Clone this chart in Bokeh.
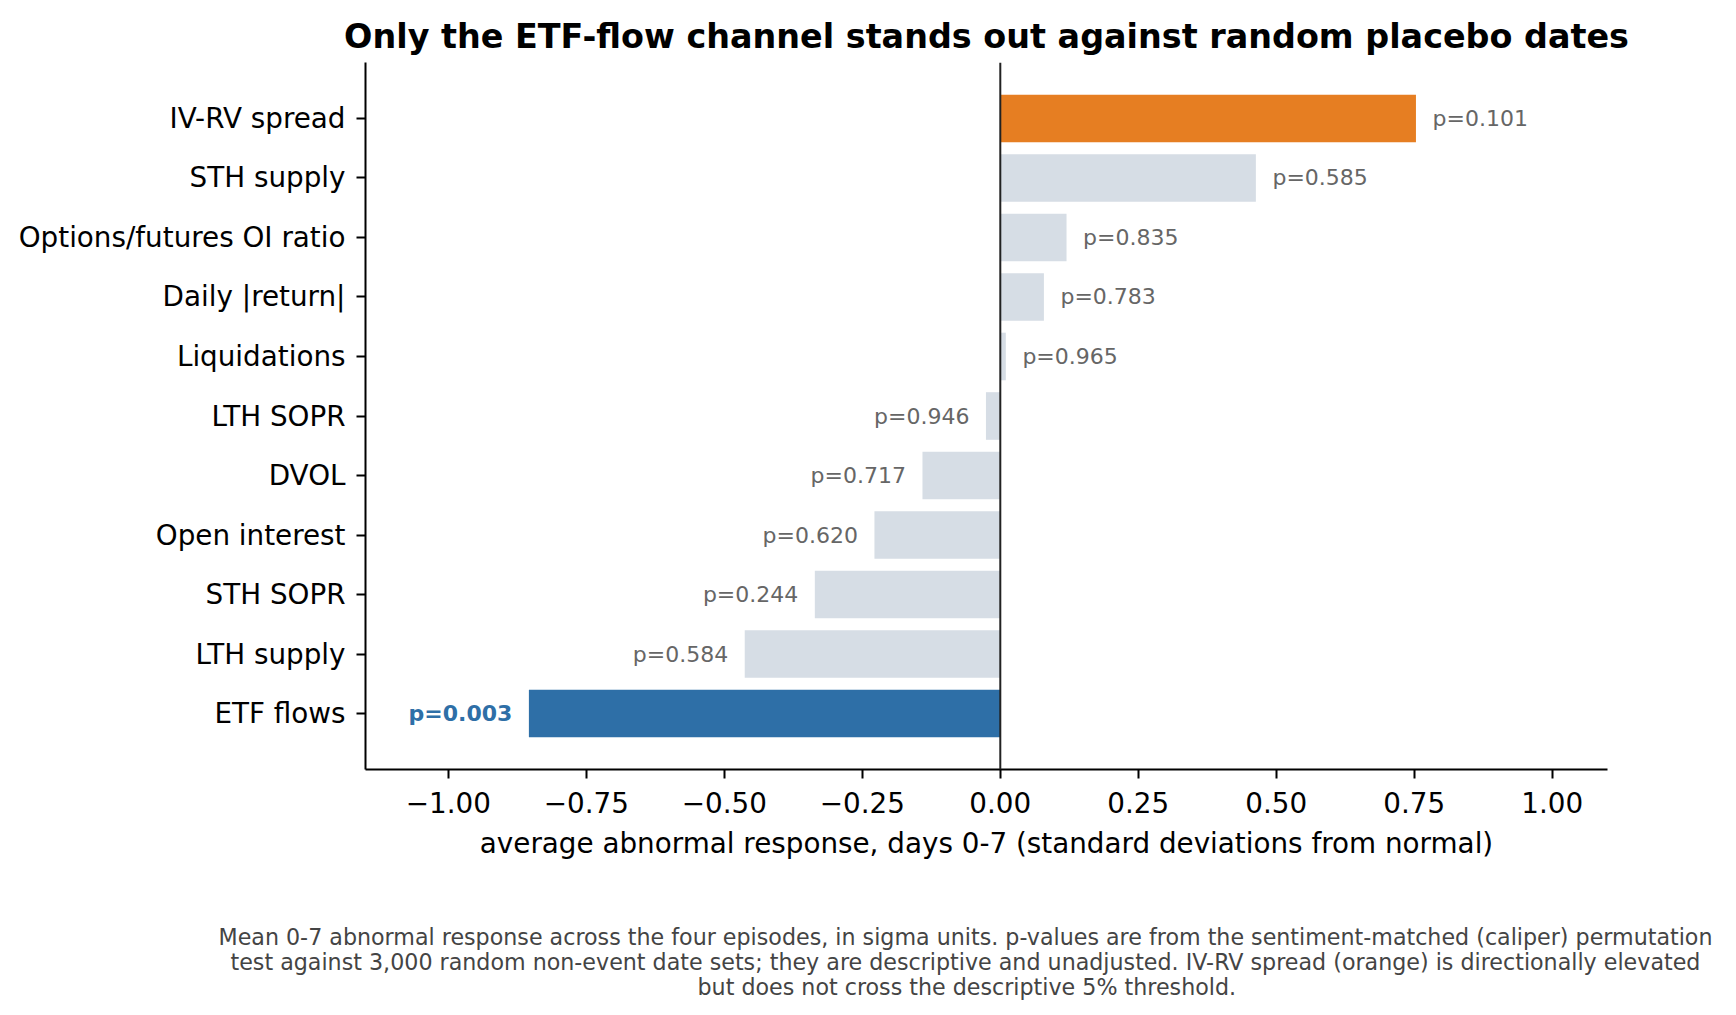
from bokeh.plotting import figure
from bokeh.models import ColumnDataSource, FixedTicker, Span, Title
from bokeh.embed import file_html
from bokeh.resources import INLINE

# ---- data (bottom to top) ----
categories = ["ETF flows", "LTH supply", "STH SOPR", "Open interest", "DVOL",
              "LTH SOPR", "Liquidations", "Daily |return|",
              "Options/futures OI ratio", "STH supply", "IV-RV spread"]
values = [-0.854, -0.463, -0.336, -0.228, -0.141, -0.026, 0.010, 0.079, 0.120, 0.463, 0.753]
pvalues = [0.003, 0.584, 0.244, 0.620, 0.717, 0.946, 0.965, 0.783, 0.835, 0.585, 0.101]
x_ticks = [-1.0, -0.75, -0.5, -0.25, 0.0, 0.25, 0.5, 0.75, 1.0]
x_tick_labels = ["\u22121.00", "\u22120.75", "\u22120.50", "\u22120.25", "0.00", "0.25", "0.50", "0.75", "1.00"]

title = "Only the ETF-flow channel stands out against random placebo dates"
x_label = "average abnormal response, days 0-7 (standard deviations from normal)"
footnote = [
    "Mean 0-7 abnormal response across the four episodes, in sigma units. p-values are from the sentiment-matched (caliper) permutation",
    "test against 3,000 random non-event date sets; they are descriptive and unadjusted. IV-RV spread (orange) is directionally elevated",
    "but does not cross the descriptive 5% threshold.",
]

FONT = "DejaVu Sans"
BLUE = "#2e6fa7"
ORANGE = "#e67e22"
GRAY = "#d6dde5"

colors, lab_colors, lab_styles, lab_align, lab_x, lab_text = [], [], [], [], [], []
for c, v, pv in zip(categories, values, pvalues):
    if c == "ETF flows":
        colors.append(BLUE); lab_colors.append(BLUE); lab_styles.append("bold")
    elif c == "IV-RV spread":
        colors.append(ORANGE); lab_colors.append("#666666"); lab_styles.append("normal")
    else:
        colors.append(GRAY); lab_colors.append("#666666"); lab_styles.append("normal")
    if v >= 0:
        lab_align.append("left"); lab_x.append(v + 0.03)
    else:
        lab_align.append("right"); lab_x.append(v - 0.03)
    lab_text.append(f"p={pv:.3f}")

src = ColumnDataSource(dict(y=list(range(len(categories))), v=values, color=colors,
                            lx=lab_x, lt=lab_text, lc=lab_colors, ls=lab_styles, la=lab_align))

p = figure(frame_width=1242, frame_height=707,
           min_border_left=365, min_border_right=113, min_border_top=62, min_border_bottom=100,
           x_range=(-1.15, 1.10), y_range=(-0.94, 10.94),
           output_backend="svg", toolbar_location=None, title=title)
p.outline_line_color = None
p.background_fill_color = "white"
p.border_fill_color = "white"
p.xgrid.visible = False
p.ygrid.visible = False

p.title.align = "center"
p.title.text_font = FONT
p.title.text_font_size = "33.4px"
p.title.text_font_style = "bold"
p.title.text_color = "black"
p.title.standoff = 14

p.hbar(y="y", left=0, right="v", height=0.8, color="color", line_color=None, source=src)
p.text(x="lx", y="y", text="lt", text_color="lc", text_font_style="ls", text_align="la",
       text_baseline="middle", text_font_size="22px", source=src,
       text_font={"value": FONT})

p.add_layout(Span(location=0, dimension="height", line_color="#222222", line_width=2))

for ax in (p.xaxis, p.yaxis):
    ax.axis_line_width = 2
    ax.axis_line_color = "black"
    ax.major_tick_line_width = 2
    ax.major_tick_line_color = "black"
    ax.major_tick_out = 9
    ax.major_tick_in = 0
    ax.minor_tick_line_color = None
    ax.major_label_text_font = FONT
    ax.major_label_text_font_size = "27.8px"
    ax.major_label_text_color = "black"

p.xaxis.ticker = FixedTicker(ticks=x_ticks)
p.xaxis.major_label_overrides = {t: l for t, l in zip(x_ticks, x_tick_labels)}
p.xaxis.major_label_standoff = 13
p.xaxis.axis_label = x_label
p.xaxis.axis_label_text_font = FONT
p.xaxis.axis_label_text_font_size = "27.8px"
p.xaxis.axis_label_text_font_style = "normal"
p.xaxis.axis_label_text_color = "black"
p.xaxis.axis_label_standoff = 11

p.yaxis.ticker = FixedTicker(ticks=list(range(len(categories))))
p.yaxis.major_label_overrides = {i: c for i, c in enumerate(categories)}
p.yaxis.major_label_standoff = 11

# spacer between the axis label and the footnote
p.add_layout(Title(text=" ", text_font=FONT, text_font_size="21.5px", standoff=34), "below")
# footnote lines, centred under the figure (left offsets relative to the frame)
foot_offsets = [-147, -135, 332]
for txt, off in zip(footnote, foot_offsets):
    t = Title(text=txt, align="left", offset=off, text_font=FONT, text_font_size="22.2px",
              text_font_style="normal", text_color="#444444", standoff=-3)
    p.add_layout(t, "below")
# small bottom spacer so the last line's descenders are not cut
p.add_layout(Title(text=" ", text_font=FONT, text_font_size="6px", standoff=0), "below")

open("out.html", "w").write(file_html(p, INLINE))
